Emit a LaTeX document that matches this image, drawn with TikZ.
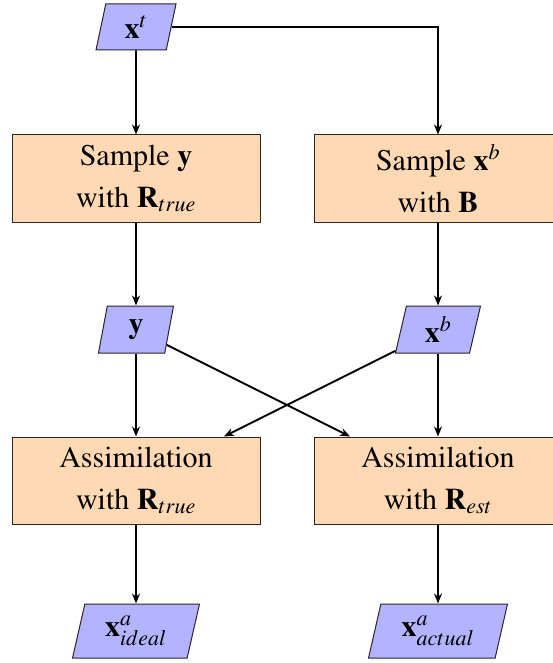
\documentclass[tikz,border=0pt]{standalone}
\usepackage[T1]{fontenc}
\usepackage{mathptmx}
\DeclareMathSizes{30}{30}{22}{16}
\usetikzlibrary{shapes.geometric,arrows.meta}
\definecolor{boxfill}{RGB}{255,217,179}
\definecolor{iofill}{RGB}{179,179,255}
\tikzset{
  procbox/.style={draw=black!85, line width=1pt, fill=boxfill, rectangle,
    minimum width=248pt, minimum height=87pt, align=center, inner sep=0pt},
  iobox/.style={draw=black!85, line width=1pt, fill=iofill, trapezium,
    trapezium left angle=70, trapezium right angle=110,
    trapezium stretches body, minimum height=47pt, inner sep=2pt},
  conn/.style={line width=1.8pt, -{Stealth[length=10pt,width=8pt]}},
}
\begin{document}
\begin{tikzpicture}[x=1pt,y=-1pt,font=\fontsize{30}{42}\selectfont]
\useasboundingbox (0,0) rectangle (553,663);
\node[iobox, minimum width=80pt, minimum height=46pt] (xt) at (136,27) {$\mathbf{x}^t$};
\node[procbox] (s1) at (136,178.5) {Sample $\mathbf{y}$\\with $\mathbf{R}_{true}$};
\node[procbox] (s2) at (438,178.5) {Sample $\mathbf{x}^b$\\with $\mathbf{B}$};
\node[iobox, minimum width=75pt] (y) at (136,329.5) {$\mathbf{y}$};
\node[iobox, minimum width=85pt] (xb) at (438,329.5) {$\mathbf{x}^b$};
\node[procbox] (a1) at (136,480.5) {Assimilation\\with $\mathbf{R}_{true}$};
\node[procbox] (a2) at (438,480.5) {Assimilation\\with $\mathbf{R}_{est}$};
\node[iobox, minimum width=127pt, minimum height=54pt] (o1) at (136,631) {$\mathbf{x}^a_{ideal}$};
\node[iobox, minimum width=139pt, minimum height=54pt] (o2) at (438,631) {$\mathbf{x}^a_{actual}$};
\draw[conn] (xt) -- (s1);
\draw[conn] (xt) -| (s2);
\draw[conn] (s1) -- (y);
\draw[conn] (s2) -- (xb);
\draw[conn] (y) -- (a1);
\draw[conn] (xb) -- (a2);
\draw[conn] (y) -- (a2);
\draw[conn] (xb) -- (a1);
\draw[conn] (a1) -- (o1);
\draw[conn] (a2) -- (o2);
\end{tikzpicture}
\end{document}
